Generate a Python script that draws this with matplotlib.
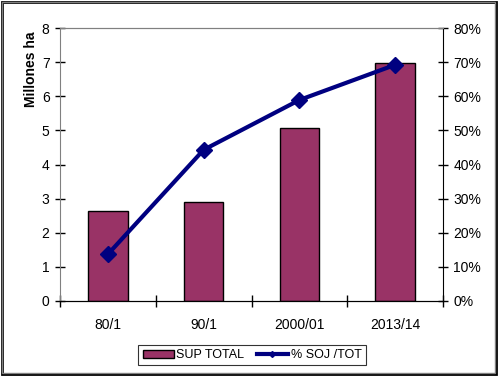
import matplotlib.pyplot as plt
import numpy as np
from matplotlib.patches import Rectangle

plt.rcParams['font.family'] = ['Liberation Sans', 'DejaVu Sans']

# data
campanas = ["80/1", "90/1", "2000/01", "2013/14"]
sup_total = [2.65, 2.91, 5.06, 6.97]        # millones ha
pct_soja = [13.7, 44.3, 58.9, 69.2]         # % soja / total

fig = plt.figure(figsize=(5.01, 3.78), dpi=100)
ax = fig.add_axes([60 / 501, 1 - 301 / 378, 383 / 501, 273 / 378])
ax2 = ax.twinx()

x = np.arange(len(campanas))
ax.bar(x, sup_total, width=0.41, color="#993366", edgecolor="black", linewidth=1,
       label="SUP TOTAL", zorder=2)
ax2.plot(x, pct_soja, color="#000080", lw=3, marker="D", ms=8,
         label="% SOJ /TOT", zorder=3)

ax.set_xlim(-0.5, len(campanas) - 0.5)
ax.set_ylim(0, 8)
ax2.set_ylim(0, 80)
ax.set_yticks(range(0, 9))
ax2.set_yticks(range(0, 81, 10))
ax2.set_yticklabels([f"{v}%" for v in range(0, 81, 10)])
ax.set_xticks(x)
ax.set_xticklabels(campanas)
ax.set_xticks(np.arange(-0.5, len(campanas)), minor=True)
ax.tick_params(axis="x", which="major", length=0, pad=12, labelsize=10)
ax.tick_params(axis="x", which="minor", direction="inout", length=8, width=1)
ax.tick_params(axis="y", direction="inout", length=7, width=1, labelsize=10, pad=4)
ax2.tick_params(axis="y", direction="inout", length=7, width=1, labelsize=10, pad=4)
ax.set_ylabel("Millones ha", fontsize=10, fontweight="bold")
ax.yaxis.set_label_coords(-0.058, 0.85)

for a in (ax, ax2):
    a.spines["top"].set_color("#808080")
    a.spines["left"].set_color("#808080")
    a.spines["right"].set_color("black")
    a.spines["bottom"].set_color("black")
ax2.spines["left"].set_visible(False)
ax.spines["right"].set_visible(False)

h1, l1 = ax.get_legend_handles_labels()
h2, l2 = ax2.get_legend_handles_labels()
leg = fig.legend(h1 + h2, l1 + l2, loc="center", bbox_to_anchor=(252 / 501, 1 - 355 / 378),
                 ncol=2, frameon=True, fancybox=False, fontsize=9, handlelength=2.5,
                 handleheight=0.6, columnspacing=1.0, borderpad=0.35, handletextpad=0.2)
leg.get_frame().set_edgecolor("black")
leg.get_frame().set_linewidth(0.8)
for h in leg.legend_handles:
    if hasattr(h, "set_markersize"):
        h.set_markersize(3)

# outer chart border with shadow
fig.patches.append(Rectangle((2 / 501, 4 / 378), 494 / 501, 372 / 378, transform=fig.transFigure,
                             fill=False, edgecolor="black", linewidth=2))
fig.patches.append(Rectangle((2 / 501, 5 / 378), 493 / 501, 371 / 378, transform=fig.transFigure,
                             fill=False, edgecolor="#808080", linewidth=1))

fig.savefig("out.png", dpi=100)
